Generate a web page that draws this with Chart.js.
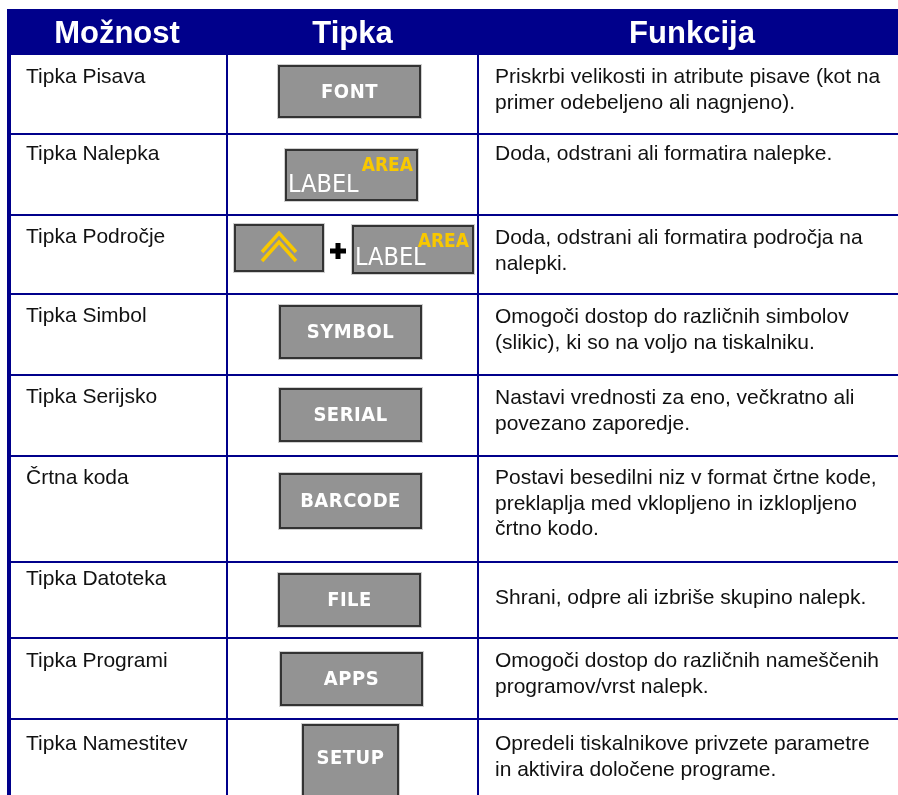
<!DOCTYPE html>
<html><head><meta charset="utf-8">
<script src="https://cdn.jsdelivr.net/npm/chart.js@4/dist/chart.umd.min.js"></script>
<style>html,body{margin:0;padding:0;background:#fff;overflow:hidden}#wrap{width:898px;height:795px}</style>
</head><body><div id="wrap"><canvas id="c" width="898" height="795"></canvas></div>
<script>
// ---- DATA ----
const headers = ["Možnost", "Tipka", "Funkcija"];
const options = ["Tipka Pisava", "Tipka Nalepka", "Tipka Področje", "Tipka Simbol", "Tipka Serijsko",
  "Črtna koda", "Tipka Datoteka", "Tipka Programi", "Tipka Namestitev"];
const keyLabels = ["FONT", "LABEL|AREA", "SHIFT+LABEL|AREA", "SYMBOL", "SERIAL", "BARCODE", "FILE", "APPS", "SETUP"];
const functions = [
  ["Priskrbi velikosti in atribute pisave (kot na", "primer odebeljeno ali nagnjeno)."],
  ["Doda, odstrani ali formatira nalepke."],
  ["Doda, odstrani ali formatira področja na", "nalepki."],
  ["Omogoči dostop do različnih simbolov", "(slikic), ki so na voljo na tiskalniku."],
  ["Nastavi vrednosti za eno, večkratno ali", "povezano zaporedje."],
  ["Postavi besedilni niz v format črtne kode,", "preklaplja med vklopljeno in izklopljeno", "črtno kodo."],
  ["Shrani, odpre ali izbriše skupino nalepk."],
  ["Omogoči dostop do različnih nameščenih", "programov/vrst nalepk."],
  ["Opredeli tiskalnikove privzete parametre", "in aktivira določene programe."]
];

// ---- LAYOUT (page units) ----
const colEdges = [7, 227, 478, 898];
const headerBand = [9, 55];
const rowEdges = [55, 134, 215, 294, 375, 456, 562, 638, 719, 830];
const textOffset1 = [28, 26, 28, 28, 28, 28, 23, 29, 31];
const textOffset3 = [28, 26, 29, 29, 29, 28, 42, 29, 31];
const keyBoxes = [
  [[278, 65, 421, 118]],
  [[285, 149, 418, 201]],
  [[234, 224, 324, 272], [352, 225, 474, 274]],
  [[279, 305, 422, 359]],
  [[279, 388, 422, 442]],
  [[279, 473, 422, 529]],
  [[278, 573, 421, 627]],
  [[280, 652, 423, 706]],
  [[302, 724, 399, 800]]
];
const NAVY = "#00008b";
const KEYFILL = "#939393";
const YELLOW = "#f8c800";

const tablePlugin = {
  id: "table",
  afterDraw(chart) {
    const ctx = chart.ctx, xs = chart.scales.x, ys = chart.scales.y;
    const X = v => xs.getPixelForValue(v), Y = v => ys.getPixelForValue(v);
    ctx.save();
    // header band
    ctx.fillStyle = NAVY;
    ctx.fillRect(X(colEdges[0]), Y(headerBand[0]), X(colEdges[3]) - X(colEdges[0]), Y(headerBand[1]) - Y(headerBand[0]));
    ctx.fillStyle = "#fff";
    ctx.font = 'bold 31px "Liberation Sans", Arial, sans-serif';
    ctx.textAlign = "center"; ctx.textBaseline = "alphabetic";
    headers.forEach((h, i) => ctx.fillText(h, X((colEdges[i] + colEdges[i + 1]) / 2 + (i === 2 ? 4 : 0)), Y(43)));
    // grid lines
    ctx.strokeStyle = NAVY;
    ctx.lineWidth = 2;
    for (let r = 1; r < rowEdges.length - 1; r++) {
      ctx.beginPath(); ctx.moveTo(X(colEdges[0]), Y(rowEdges[r])); ctx.lineTo(X(colEdges[3]), Y(rowEdges[r])); ctx.stroke();
    }
    [1, 2].forEach(c => {
      ctx.beginPath(); ctx.moveTo(X(colEdges[c]), Y(headerBand[1])); ctx.lineTo(X(colEdges[c]), Y(795)); ctx.stroke();
    });
    ctx.lineWidth = 4;
    ctx.beginPath(); ctx.moveTo(X(colEdges[0] + 2), Y(headerBand[1])); ctx.lineTo(X(colEdges[0] + 2), Y(795)); ctx.stroke();
    // body text
    ctx.fillStyle = "#111";
    ctx.font = '21px "Liberation Sans", Arial, sans-serif';
    ctx.textAlign = "left";
    options.forEach((o, r) => {
      ctx.fillText(o, X(26), Y(rowEdges[r] + textOffset1[r]));
      const base = rowEdges[r] + textOffset3[r];
      functions[r].forEach((line, k) => ctx.fillText(line, X(495), Y(base + k * 25.5)));
    });
    // keys
    function keyRect(b) {
      const x0 = X(b[0]), y0 = Y(b[1]), x1 = X(b[2]), y1 = Y(b[3]);
      ctx.fillStyle = "#d0d0d0";
      ctx.fillRect(x0 - 1, y0 - 1, x1 - x0 + 2, y1 - y0 + 2);
      ctx.fillStyle = KEYFILL;
      ctx.fillRect(x0, y0, x1 - x0, y1 - y0);
      ctx.strokeStyle = "#333";
      ctx.lineWidth = 2;
      ctx.strokeRect(x0 + 1, y0 + 1, x1 - x0 - 2, y1 - y0 - 2);
      return [x0, y0, x1, y1];
    }
    function labelArea(b) {
      const [x0, y0, x1, y1] = keyRect(b);
      ctx.textAlign = "left"; ctx.textBaseline = "alphabetic";
      ctx.fillStyle = "#fff";
      ctx.font = '25px "DejaVu Sans Condensed", "DejaVu Sans", sans-serif';
      ctx.fillText("LABEL", x0 + 3, y1 - 9);
      ctx.textAlign = "right";
      ctx.fillStyle = YELLOW;
      ctx.font = 'bold 19px "DejaVu Sans Condensed", "DejaVu Sans", sans-serif';
      ctx.fillText("AREA", x1 - 5, y0 + 22);
    }
    keyLabels.forEach((lab, r) => {
      const boxes = keyBoxes[r];
      if (lab === "LABEL|AREA") { labelArea(boxes[0]); return; }
      if (lab === "SHIFT+LABEL|AREA") {
        const [x0, y0, x1, y1] = keyRect(boxes[0]);
        const cx = (x0 + x1) / 2;
        ctx.strokeStyle = YELLOW; ctx.lineWidth = 3.5; ctx.lineJoin = "miter";
        [233, 242].forEach(a => {
          ctx.beginPath(); ctx.moveTo(cx - 17, Y(a + 19)); ctx.lineTo(cx, Y(a)); ctx.lineTo(cx + 17, Y(a + 19)); ctx.stroke();
        });
        // plus
        const pc = (x1 + X(boxes[1][0])) / 2, py = Y(251);
        ctx.strokeStyle = "#000"; ctx.lineWidth = 5;
        ctx.beginPath(); ctx.moveTo(pc - 8, py); ctx.lineTo(pc + 8, py); ctx.moveTo(pc, py - 8); ctx.lineTo(pc, py + 8); ctx.stroke();
        labelArea(boxes[1]);
        return;
      }
      const [x0, y0, x1, y1] = keyRect(boxes[0]);
      ctx.fillStyle = "#fff";
      ctx.font = 'bold 20px "DejaVu Sans Condensed", "DejaVu Sans", sans-serif';
      ctx.textAlign = "center"; ctx.textBaseline = "middle";
      try { ctx.letterSpacing = "0.5px"; } catch (e) {}
      const cy = r === 8 ? Y(759) : (y0 + y1) / 2 + 1;
      ctx.fillText(lab, (x0 + x1) / 2, cy);
      try { ctx.letterSpacing = "0px"; } catch (e) {}
    });
    ctx.restore();
  }
};

new Chart(document.getElementById("c"), {
  type: "scatter",
  data: { datasets: [{ data: [], pointRadius: 0 }] },
  options: {
    responsive: false, animation: false, events: [],
    layout: { padding: 0 },
    plugins: { legend: { display: false }, tooltip: { enabled: false } },
    scales: {
      x: { type: "linear", min: 0, max: 898, display: false },
      y: { type: "linear", min: 0, max: 795, reverse: true, display: false }
    }
  },
  plugins: [tablePlugin]
});
</script></body></html>
